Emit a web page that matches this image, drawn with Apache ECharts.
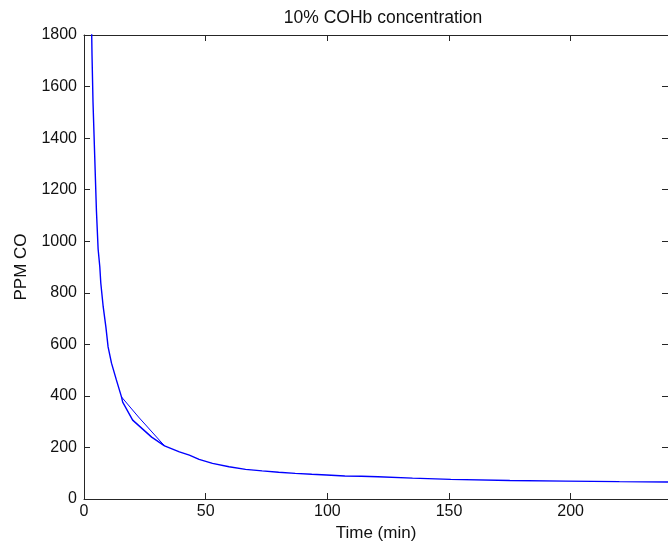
<!DOCTYPE html>
<html>
<head>
<meta charset="utf-8">
<script src="https://cdn.jsdelivr.net/npm/echarts@6/dist/echarts.min.js"></script>
<style>
html,body{margin:0;padding:0;background:#fff;}
#chart{width:668px;height:552px;}
</style>
</head>
<body>
<div id="chart"></div>
<script>
// Main curve (time in minutes, ppm CO)
var timeMin = [3.0, 3.3, 3.7, 4.4, 5.1, 5.8, 6.5, 6.9, 7.9, 9.0, 9.9, 11.3, 13.3, 15.4, 15.9, 20.0, 27.8, 33.1, 39.2, 43.3, 47.3, 52.8, 59.6, 66.4, 73.2, 80, 86.8, 93.6, 99.7, 107.2, 114, 120.8, 135, 150.7, 175, 198, 220, 240];
var ppmCO   = [1900, 1720, 1540, 1330, 1120, 970, 900, 838, 745, 667, 590, 527, 462, 396, 376, 306, 240, 206, 183, 170, 154, 138, 125, 115, 109, 103.5, 99.5, 96, 93, 89.5, 88, 86.5, 81, 76, 72, 69.5, 67.5, 66];
// Extra straight segment drawn across the loop
var chordTime = [15.4, 22.4, 33.1];
var chordPpm  = [396, 318, 206];

function zip(a, b) { return a.map(function (v, i) { return [v, b[i]]; }); }

var FONT = "'Liberation Sans', Arial, Helvetica, sans-serif";
var AX = '#262626';
var TXT = '#111';

var chart = echarts.init(document.getElementById('chart'), null, {renderer: 'canvas'});
function axisCommon() {
  return {
    axisLine: {show: true, onZero: false, lineStyle: {color: AX, width: 1}},
    axisTick: {show: true, inside: true, length: 6, lineStyle: {color: AX, width: 1}},
    splitLine: {show: false}
  };
}
chart.setOption({
  backgroundColor: '#fff',
  animation: false,
  title: {
    text: '10% COHb concentration',
    left: 378, top: 4, textAlign: 'center',
    textStyle: {fontFamily: FONT, fontSize: 17.5, fontWeight: 'normal', color: TXT}
  },
  grid: {left: 84, top: 35, width: 588, height: 464},
  xAxis: [
    Object.assign({
      type: 'value', position: 'bottom', min: 0, max: 240, interval: 50,
      name: 'Time (min)', nameLocation: 'middle', nameGap: 26,
      nameTextStyle: {fontFamily: FONT, fontSize: 17, color: TXT},
      axisLabel: {fontFamily: FONT, fontSize: 16, color: TXT, margin: 5, showMaxLabel: false}
    }, axisCommon()),
    Object.assign({
      type: 'value', position: 'top', min: 0, max: 240, interval: 50,
      axisLabel: {show: false}
    }, axisCommon())
  ],
  yAxis: [
    Object.assign({
      type: 'value', position: 'left', min: 0, max: 1800, interval: 200,
      name: 'PPM CO', nameLocation: 'middle', nameGap: 54, nameRotate: 90,
      nameTextStyle: {fontFamily: FONT, fontSize: 17, color: TXT},
      axisLabel: {fontFamily: FONT, fontSize: 16, color: TXT, margin: 7,
        formatter: function (v) { return String(v); }}
    }, axisCommon()),
    Object.assign({
      type: 'value', position: 'right', min: 0, max: 1800, interval: 200,
      axisLabel: {show: false}
    }, axisCommon())
  ],
  series: [
    {
      type: 'line', xAxisIndex: 0, yAxisIndex: 0,
      data: zip(timeMin, ppmCO), showSymbol: false, symbol: 'none',
      lineStyle: {color: '#0000ff', width: 1.4}, clip: true, z: 3
    },
    {
      type: 'line', xAxisIndex: 0, yAxisIndex: 0,
      data: zip(chordTime, chordPpm), showSymbol: false, symbol: 'none',
      lineStyle: {color: '#0000ff', width: 1}, clip: true, z: 3
    }
  ]
});
</script>
</body>
</html>
